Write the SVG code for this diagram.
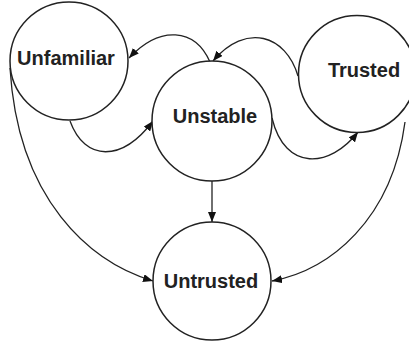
<svg xmlns="http://www.w3.org/2000/svg" width="409" height="343" viewBox="0 0 409 343">
<style>
.n{fill:#fff;stroke:#222;stroke-width:1.5}
.t{font-family:"Liberation Sans",Arial,sans-serif;font-weight:bold;font-size:20px;fill:#222;text-anchor:middle}
.c{fill:none;stroke:#222;stroke-width:1.3;marker-end:url(#a)}
</style>
<defs>
<marker id="a" viewBox="0 0 10 8" refX="10" refY="4" markerWidth="10" markerHeight="8" markerUnits="userSpaceOnUse" orient="auto">
<path d="M0 0L10 4L0 8z" fill="#111"/>
</marker>
</defs>
<g id="connectors">
<path class="c" d="M210 62C195 28 160 25 129 58"/>
<path class="c" d="M298 76C286 35 246 22 213 61"/>
<path class="c" d="M70 121C85 162 122 162 153 121"/>
<path class="c" d="M272 118C285 172 330 168 358 132"/>
<path class="c" d="M212 181L212 222"/>
<path class="c" d="M10 68C18 200 90 262 153 281"/>
<path class="c" d="M405 122C392 220 330 270 272 281"/>
</g>
<g id="unfamiliar"><circle class="n" cx="69" cy="61" r="59"/><text class="t" x="66" y="65">Unfamiliar</text></g>
<g id="unstable"><circle class="n" cx="212" cy="121" r="60"/><text class="t" x="215" y="123">Unstable</text></g>
<g id="trusted"><circle class="n" cx="357" cy="74" r="58.5"/><text class="t" x="364" y="77">Trusted</text></g>
<g id="untrusted"><circle class="n" cx="212" cy="281" r="59"/><text class="t" x="211" y="288">Untrusted</text></g>
</svg>
